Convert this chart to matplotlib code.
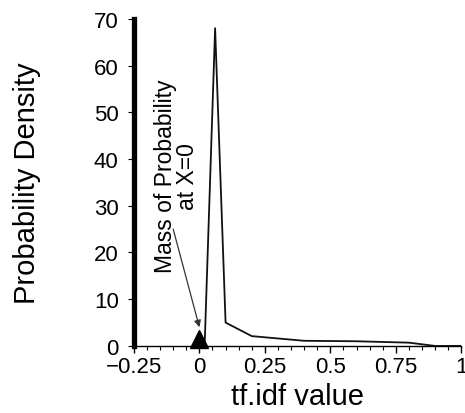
import matplotlib
matplotlib.use('Agg')
import matplotlib.pyplot as plt
from matplotlib.ticker import MultipleLocator

plt.rcParams['font.family'] = ['Liberation Sans', 'DejaVu Sans']

# ── Data ──────────────────────────────────────────────────────────────────────
tfidf   = [0.02, 0.06, 0.10, 0.20, 0.40, 0.60, 0.80, 0.90, 1.00]
density = [0.0, 68.0, 5.0, 2.1, 1.1, 1.0, 0.7, 0.0, 0.0]
mass_x, mass_y = [0.0], [1.4]

x_ticks  = [-0.25, 0, 0.25, 0.5, 0.75, 1]
x_labels = ['\u22120.25', '0', '0.25', '0.5', '0.75', '1']
y_ticks  = [0, 10, 20, 30, 40, 50, 60, 70]

# ── Figure ────────────────────────────────────────────────────────────────────
fig = plt.figure(figsize=(4.65, 4.14), dpi=100, facecolor='white')
ax = fig.add_axes([0.288, 0.162, 0.704, 0.790])

ax.plot(tfidf, density, color='#111111', lw=1.3, zorder=3)
ax.plot(mass_x, mass_y, marker='^', color='black', markersize=12.5,
        ls='none', clip_on=False, zorder=4)

ax.annotate('', xy=(0.0, 4.0), xytext=(-0.10, 25.0),
            arrowprops=dict(arrowstyle='-|>', color='#333333', lw=0.9,
                            mutation_scale=10, shrinkA=0, shrinkB=0))
ax.text(-0.088, 36.5, 'Mass of Probability\nat X=0', rotation=90,
        ha='center', va='center', fontsize=16.5, linespacing=0.95)

ax.set_xlim(-0.25, 1)
ax.set_ylim(0, 70)
ax.set_xticks(x_ticks)
ax.set_xticklabels(x_labels)
ax.set_yticks(y_ticks)
ax.xaxis.set_minor_locator(MultipleLocator(0.05))

ax.tick_params(axis='both', which='major', labelsize=16, direction='out')
ax.tick_params(axis='x', which='major', length=5, width=1, pad=2.5)
ax.tick_params(axis='x', which='minor', length=3, width=0.8, direction='out')
ax.tick_params(axis='y', which='major', length=4, width=0.8, pad=7)

for side in ('top', 'right'):
    ax.spines[side].set_visible(False)
ax.spines['left'].set_linewidth(3.8)
ax.spines['bottom'].set_linewidth(1.0)

ax.set_xlabel('tf.idf value', fontsize=21, labelpad=3)
ax.set_ylabel('Probability Density', fontsize=21, labelpad=38)

fig.savefig('out.png', dpi=100, facecolor='white')
plt.close(fig)
